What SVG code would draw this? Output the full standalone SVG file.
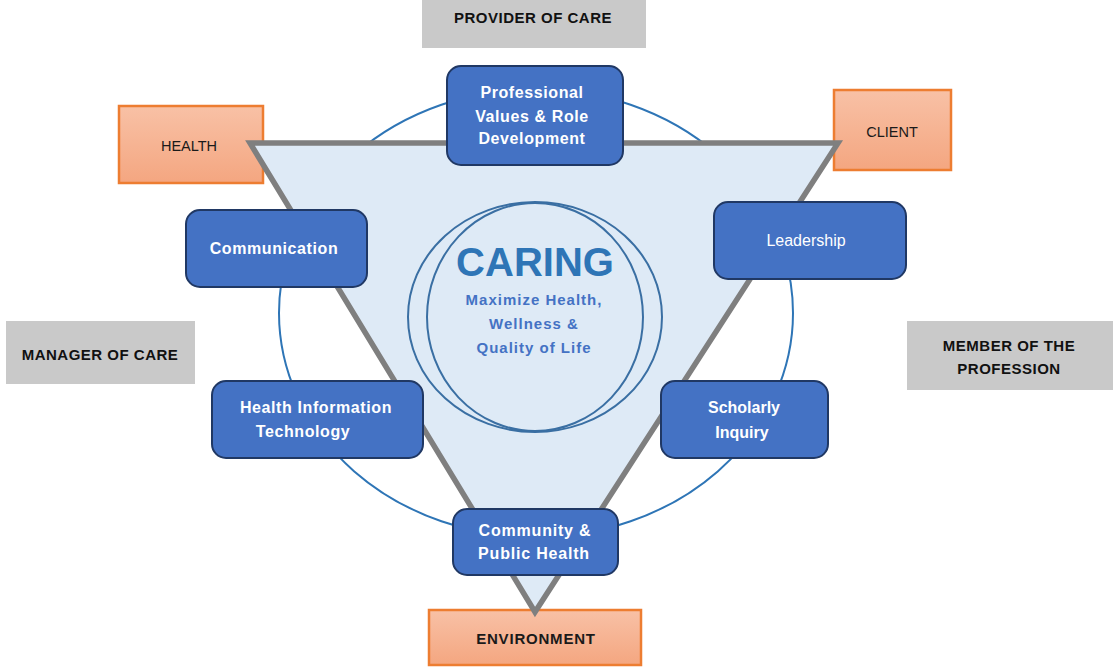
<svg xmlns="http://www.w3.org/2000/svg" width="1113" height="668" viewBox="0 0 1113 668">
  <defs>
    <linearGradient id="orangeGrad" x1="0" y1="0" x2="0" y2="1">
      <stop offset="0" stop-color="#f8c1a6"/>
      <stop offset="1" stop-color="#f4a680"/>
    </linearGradient>
    <style>
      .t { font-family: "Liberation Sans", Arial, sans-serif; text-anchor: middle; }
      .blue rect { fill: #4472c4; stroke: #203864; stroke-width: 2; }
      .blue text { fill: #ffffff; font-size: 16px; font-weight: bold; letter-spacing: 0.6px; }
      .orange rect { fill: url(#orangeGrad); stroke: #ed7d31; stroke-width: 2.5; }
      .orange text { fill: #1a1a1a; font-size: 14.5px; }
      .gray rect { fill: #c9c9c9; }
      .gray text { fill: #111111; font-size: 15px; font-weight: bold; letter-spacing: 0.5px; }
      .sub { font-size: 15px; font-weight: bold; fill: #4472c4; letter-spacing: 1px; }
    </style>
  </defs>
  <rect width="1113" height="668" fill="#ffffff"/>

  <!-- background shapes -->
  <g id="backdrop">
    <ellipse cx="536" cy="313" rx="257" ry="224" fill="none" stroke="#2e75b6" stroke-width="2"/>
  </g>

  <!-- orange (metaparadigm) boxes, under the triangle -->
  <g id="health" class="orange">
    <rect x="119" y="106" width="144" height="77"/>
    <text class="t" x="189" y="151">HEALTH</text>
  </g>
  <g id="client" class="orange">
    <rect x="834" y="90" width="117" height="80"/>
    <text class="t" x="892" y="137">CLIENT</text>
  </g>
  <g id="environment" class="orange">
    <rect x="429" y="610" width="212" height="55"/>
    <text class="t" x="536" y="644" style="font-weight:bold;font-size:15px;letter-spacing:0.8px">ENVIRONMENT</text>
  </g>

  <g id="connectors">
    <polygon points="250,143 838,143 535,612" fill="#deeaf6" stroke="#7f7f7f" stroke-width="5.5" stroke-linejoin="miter"/>
  </g>

  <g id="caring">
    <ellipse cx="535" cy="317" rx="127" ry="115" fill="none" stroke="#3a6fa3" stroke-width="2"/>
    <ellipse cx="535" cy="317" rx="108" ry="114" fill="none" stroke="#3a6fa3" stroke-width="2"/>
    <text class="t" x="535" y="276" style="font-size:40px;font-weight:bold;fill:#2e75b6">CARING</text>
    <text class="t sub" x="534" y="305">Maximize Health,</text>
    <text class="t sub" x="534" y="329">Wellness &amp;</text>
    <text class="t sub" x="534" y="353">Quality of Life</text>
  </g>

  <!-- gray role boxes -->
  <g id="provider" class="gray">
    <rect x="422" y="0" width="224" height="48"/>
    <text class="t" x="533" y="23">PROVIDER OF CARE</text>
  </g>
  <g id="manager" class="gray">
    <rect x="6" y="321" width="189" height="63"/>
    <text class="t" x="100" y="360">MANAGER OF CARE</text>
  </g>
  <g id="member" class="gray">
    <rect x="907" y="321" width="206" height="69"/>
    <text class="t" x="1009" y="351">MEMBER OF THE</text>
    <text class="t" x="1009" y="374">PROFESSION</text>
  </g>

  <!-- blue concept boxes -->
  <g id="professional" class="blue">
    <rect x="447" y="66" width="176" height="99" rx="14"/>
    <text class="t" x="532" y="98">Professional</text>
    <text class="t" x="532" y="122">Values &amp; Role</text>
    <text class="t" x="532" y="144">Development</text>
  </g>
  <g id="communication" class="blue">
    <rect x="186" y="210" width="181" height="77" rx="14"/>
    <text class="t" x="274" y="254">Communication</text>
  </g>
  <g id="leadership" class="blue">
    <rect x="714" y="202" width="192" height="77" rx="14"/>
    <text class="t" x="806" y="246" style="font-weight:normal;letter-spacing:0">Leadership</text>
  </g>
  <g id="hit" class="blue">
    <rect x="212" y="381" width="211" height="77" rx="14"/>
    <text class="t" x="316" y="413">Health Information</text>
    <text class="t" x="303" y="437">Technology</text>
  </g>
  <g id="scholarly" class="blue">
    <rect x="661" y="381" width="167" height="77" rx="14"/>
    <text class="t" x="744" y="413" style="letter-spacing:0">Scholarly</text>
    <text class="t" x="742" y="438" style="letter-spacing:0">Inquiry</text>
  </g>
  <g id="community" class="blue">
    <rect x="453" y="509" width="165" height="66" rx="14"/>
    <text class="t" x="535" y="536" style="letter-spacing:0.8px">Community &amp;</text>
    <text class="t" x="534" y="559" style="letter-spacing:0.8px">Public Health</text>
  </g>
</svg>
